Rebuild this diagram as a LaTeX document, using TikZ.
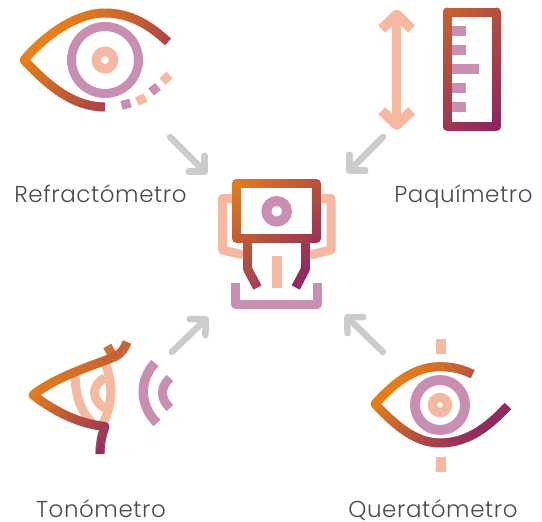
\documentclass[tikz,border=0pt]{standalone}
\usepackage{fontspec}
\setmainfont{Poppins}[UprightFont={* Light},LetterSpace=2.5]
\usetikzlibrary{arrows.meta}
\definecolor{peach}{HTML}{F4B9A0}
\definecolor{pinkc}{HTML}{C88FB3}
\definecolor{grayc}{HTML}{CCCCCC}
\definecolor{gorange}{HTML}{E5801A}
\definecolor{gpurp}{HTML}{8A2362}
\newcommand\gsetrange[2]{\def\gsa{#1}\def\gsb{#2}}
\newcommand\gmix[1]{\pgfmathsetmacro\gt{max(0,min(100,100*(((#1)-\gsa)/(\gsb-\gsa))))}}
\newcommand\gseg[4]{\gmix{0.5*(#1+#3+#2+#4)}\draw[line width=9pt,color={gpurp!\gt!gorange}] (#1,#2) -- (#3,#4);}
\newcommand\gdot[2]{\gmix{#1+#2}\fill[color={gpurp!\gt!gorange}] (#1,#2) circle (4.5pt);}
\newcommand\gbez[5]{\pgfmathsetmacro\gr{(1-#1)^3*(#2)+3*(1-#1)^2*#1*(#3)+3*(1-#1)*#1^2*(#4)+#1^3*(#5)}}
\newcommand\gcurve[8]{\foreach \i in {1,...,30}{%
  \pgfmathsetmacro\ta{(\i-1)/30}\pgfmathsetmacro\tb{min(1,(\i+0.3)/30)}%
  \gbez{\ta}{#1}{#3}{#5}{#7}\let\xa\gr\gbez{\ta}{#2}{#4}{#6}{#8}\let\ya\gr
  \gbez{\tb}{#1}{#3}{#5}{#7}\let\xb\gr\gbez{\tb}{#2}{#4}{#6}{#8}\let\yb\gr
  \gseg{\xa}{\ya}{\xb}{\yb}}}
\newcommand\gline[4]{\foreach \i in {1,...,24}{%
  \pgfmathsetmacro\ta{(\i-1)/24}\pgfmathsetmacro\tb{min(1,(\i+0.3)/24)}%
  \pgfmathsetmacro\xa{#1+\ta*(#3-#1)}\pgfmathsetmacro\ya{#2+\ta*(#4-#2)}%
  \pgfmathsetmacro\xb{#1+\tb*(#3-#1)}\pgfmathsetmacro\yb{#2+\tb*(#4-#2)}%
  \gseg{\xa}{\ya}{\xb}{\yb}}}
\tikzset{
  pstroke/.style={peach,line width=9.5pt},
  kstroke/.style={pinkc,line width=9.5pt},
  conn/.style={grayc,line width=6.5pt,line cap=round,line join=round,-{Straight Barb[round,length=11.3pt,width=22.6pt,line width=6.5pt]}},
  lbl/.style={font=\fontsize{23}{27}\selectfont\color[HTML]{4A4A4A},inner sep=0pt,anchor=base},
}
\begin{document}
\begin{tikzpicture}[x=1pt,y=-1pt]
\useasboundingbox (0,0) rectangle (542,522);
% eye one
\draw[kstroke,line width=9pt] (105,60) circle (33.5);
\draw[pstroke] (105,60) circle (8.7);
\gsetrange{85}{280}
\gcurve{24}{60}{50}{30}{80}{13}{105}{13}
\gcurve{105}{13}{130}{13}{150}{25}{168}{42}
\gcurve{24}{60}{50}{88}{75}{107}{105}{107}
\gdot{24}{60}
\draw[kstroke,line width=9pt] (121.5,105.5) -- (130.5,103);
\draw[pstroke,line width=9pt] (137,101.5) -- (145.5,97.5);
\draw[kstroke,line width=9pt] (151,92) -- (158,86.5);
\draw[pstroke,line width=9pt] (162.5,81.5) -- (169.5,75);
% paquimetro
\draw[pstroke,line width=9pt] (396.7,14) -- (396.7,126);
\draw[pstroke,line width=10pt,line join=round] (381.7,29) -- (396.7,14.5) -- (411.7,29);
\draw[pstroke,line width=10pt,line join=round] (381.7,110.7) -- (396.7,125) -- (411.7,110.7);
\foreach \yy/\xe in {30.8/466,50/466,69/479,88/466,107/466}
  \draw[kstroke,line width=9.8pt] (452,\yy) -- (\xe,\yy);
\gsetrange{372}{632}
\gline{447.2}{12}{496.5}{12}\gline{496.5}{12}{496.5}{126.5}
\gline{447.2}{12}{447.2}{126.5}\gline{447.2}{126.5}{496.5}{126.5}
\gdot{447.2}{12}\gdot{496.5}{12}\gdot{447.2}{126.5}\gdot{496.5}{126.5}
% centre
\draw[pstroke,line width=9pt,line join=round] (232,198.5) -- (222.5,198.5) -- (222.5,250) -- (243,255);
\draw[pstroke,line width=9pt,line join=round] (321.5,198.5) -- (331,198.5) -- (331,250) -- (310,255);
\draw[pstroke,line width=10pt] (276.7,256) -- (276.7,287.7);
\draw[kstroke,line width=10pt] (276.7,211.3) circle (10.3);
\draw[kstroke,line width=9pt,line join=round] (235.7,283.3) -- (235.7,304.3) -- (317.3,304.3) -- (317.3,283.3);
\gsetrange{411}{590}
\gline{236.5}{183.5}{316.5}{183.5}\gline{316.5}{183.5}{316.5}{238.5}
\gline{236.5}{183.5}{236.5}{238.5}\gline{236.5}{238.5}{316.5}{238.5}
\gdot{236.5}{183.5}\gdot{316.5}{183.5}\gdot{236.5}{238.5}\gdot{316.5}{238.5}
\gline{247.3}{240}{247.3}{268.5}\gline{247.3}{268.5}{257.5}{287.5}\gdot{247.3}{268.5}
\gline{305.7}{240}{305.7}{268.5}\gline{305.7}{268.5}{295.7}{287.5}\gdot{305.7}{268.5}
% tonometro
\draw[pstroke,line width=9pt] (75,372) .. controls (75,395) and (80,410) .. (92,423);
\draw[pstroke,line width=9pt] (106,365) .. controls (113,385) and (113,405) .. (102,425);
\draw[pstroke,line width=9pt] (105,378) .. controls (91,385) and (91,400) .. (105,408);
\gsetrange{420}{570}
\gline{107.3}{346}{114}{358}
\gcurve{33}{395}{55}{378}{85}{368}{112}{358}
\gcurve{112}{358}{120}{355}{124}{350}{127}{342}
\gcurve{33}{395}{55}{412}{80}{424}{105}{426.5}
\gcurve{105}{426.5}{102}{435}{100}{443}{100}{454}
\gdot{33}{395}\gdot{105}{426.5}
\draw[kstroke,line width=9.5pt] (155,363) .. controls (139,380) and (139,405) .. (157,423);
\draw[kstroke,line width=9pt] (170,378) .. controls (160,387) and (160,399) .. (170,408);
% queratometro
\draw[kstroke,line width=10pt] (440,405) circle (25);
\draw[pstroke] (440,405) circle (7.5);
\draw[pstroke,line width=10pt] (441,339) -- (441,354);
\draw[pstroke,line width=10pt] (441,457) -- (441,472);
\gsetrange{776}{925}
\gcurve{375}{404}{395}{382}{415}{366.7}{440}{366.7}
\gcurve{440}{366.7}{452}{366.7}{462}{369}{472.7}{374.3}
\gcurve{375}{404}{395}{425}{415}{443}{440}{443}
\gcurve{440}{443}{468}{443}{488}{427}{508}{406}
\gdot{375}{404}
% labels
\node[lbl] (refr) at (100.5,202.5) {Refractómetro};
\node[lbl] (paqu) at (463.5,202.5) {Paquímetro};
\node[lbl] (tono) at (101,517.5) {Tonómetro};
\node[lbl] (quer) at (433,517.5) {Queratómetro};
% connectors
\coordinate (a1) at (170,137); \coordinate (b1) at (207,174);
\coordinate (a2) at (383,137); \coordinate (b2) at (347,173);
\coordinate (a3) at (172,352); \coordinate (b3) at (208,317);
\coordinate (a4) at (383,352); \coordinate (b4) at (345,315);
\draw[conn] (a1) -- (b1);
\draw[conn] (a2) -- (b2);
\draw[conn] (a3) -- (b3);
\draw[conn] (a4) -- (b4);
\end{tikzpicture}
\end{document}
